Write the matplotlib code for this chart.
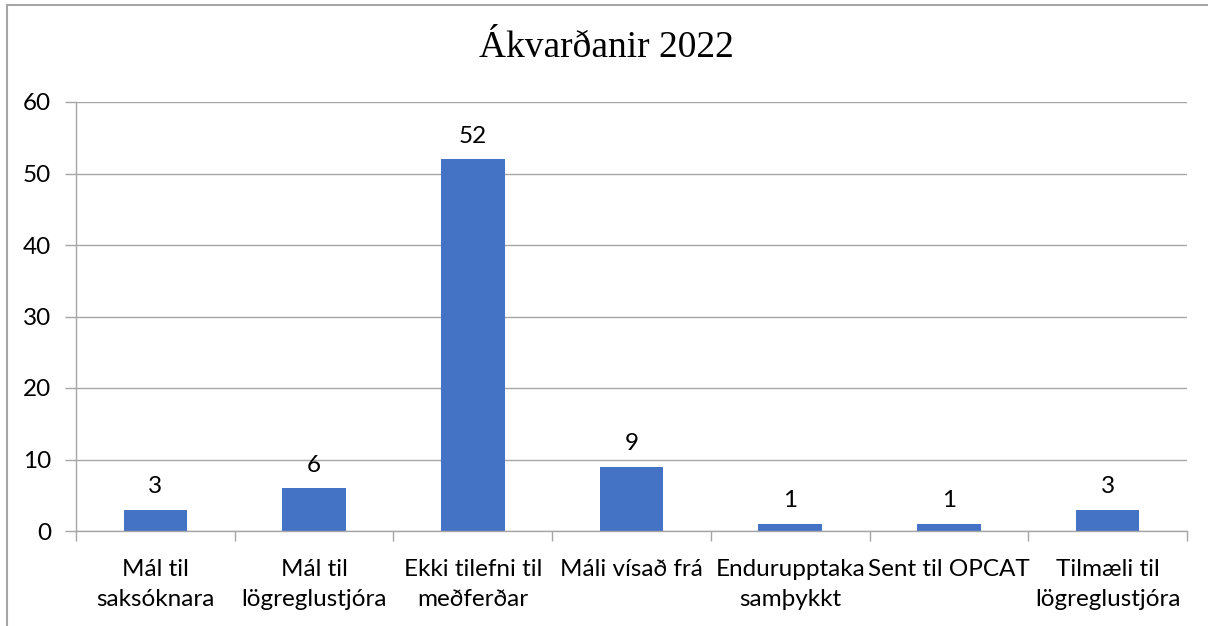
import matplotlib
matplotlib.use("Agg")
import matplotlib.pyplot as plt
from matplotlib.lines import Line2D
import numpy as np

categories = ["Mál til\nsaksóknara", "Mál til\nlögreglustjóra", "Ekki tilefni til\nmeðferðar",
              "Máli vísað frá", "Endurupptaka\nsamþykkt", "Sent til OPCAT", "Tilmæli til\nlögreglustjóra"]
values = [3, 6, 52, 9, 1, 1, 3]
title = "Ákvarðanir 2022"
yticks = [0, 10, 20, 30, 40, 50, 60]

GRAY = "#A6A6A6"
BLUE = "#4472C4"
LABEL_FONT = ["Lato", "DejaVu Sans"]
FS = 17.5

fig = plt.figure(figsize=(12.13, 6.26), dpi=100)
ax = fig.add_axes([76/1213, 1-531/626, (1187-76)/1213, (531-102)/626])

x = np.arange(len(categories))
bars = ax.bar(x, values, width=0.4, color=BLUE, zorder=3)
ax.set_xlim(-0.5, len(categories)-0.5)
ax.set_ylim(0, 60)
ax.set_yticks(yticks)
ax.set_yticklabels([str(t) for t in yticks], fontsize=FS, family=LABEL_FONT)
ax.set_xticks(x)
ax.set_xticklabels(categories, fontsize=FS, family=LABEL_FONT, linespacing=1.55)
ax.set_xticks(np.arange(len(categories)+1)-0.5, minor=True)
ax.tick_params(axis="x", which="major", length=0, pad=20)
ax.tick_params(axis="x", which="minor", length=7, color=GRAY, width=1)
ax.tick_params(axis="y", length=8, color=GRAY, width=1, pad=10)
ax.grid(axis="y", color=GRAY, linewidth=1, zorder=0)
for s in ["top", "right"]:
    ax.spines[s].set_visible(False)
for s in ["left", "bottom"]:
    ax.spines[s].set_color(GRAY)
    ax.spines[s].set_linewidth(1)
    ax.spines[s].set_zorder(4)

for xi, v in zip(x, values):
    ax.annotate(str(v), (xi, v), xytext=(0, 9), textcoords="offset points",
                ha="center", va="bottom", fontsize=FS, family=LABEL_FONT)

fig.text(0.5, 1-48/626, title, ha="center", va="center", fontsize=27,
         family=["Liberation Serif", "DejaVu Serif"])

fig.add_artist(Line2D([7/1213, 1207/1213], [1-5/626, 1-5/626], color=GRAY, lw=1.5,
                      transform=fig.transFigure))
fig.add_artist(Line2D([7/1213, 7/1213], [1-5/626, 0], color=GRAY, lw=1.5,
                      transform=fig.transFigure))

fig.savefig("out.png", dpi=100)
